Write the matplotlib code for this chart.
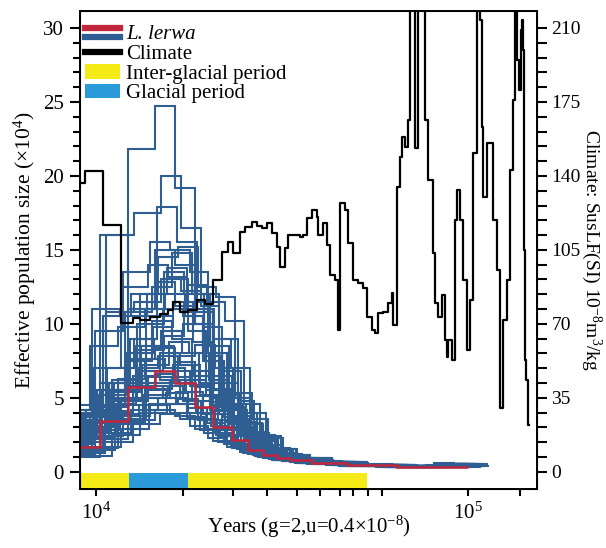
import numpy as np
import matplotlib.pyplot as plt
from matplotlib.legend_handler import HandlerBase
from matplotlib.lines import Line2D
from matplotlib.patches import Patch

plt.rcParams['font.family'] = ['Liberation Serif', 'DejaVu Serif']
plt.rcParams['mathtext.fontset'] = 'custom'
plt.rcParams['mathtext.rm'] = 'Liberation Serif'
plt.rcParams['mathtext.it'] = 'Liberation Serif:italic'

# PSMC time intervals (years) and main estimate (x10^4)
psmc_edges = [7500, 10250, 12190, 14400, 16300, 18460, 20600, 23200, 25600,
              28100, 30700, 33200, 38000, 47200, 64400, 87800, 100000]
lerwa_ne = [1.7, 3.45, 5.7, 6.8, 6.0, 4.4, 3.05, 2.15, 1.5, 1.15, 0.95,
            0.8, 0.62, 0.45, 0.33, 0.3]

# bootstrap replicates: time stretch factor and Ne per interval
boot_stretch = [1.0, 0.95, 1.03, 0.98, 1.06, 1.1, 0.9, 1.0, 1.0, 1.04, 0.97, 1.02,
                1.08, 0.93, 1.05, 0.96, 1.12, 1.0, 1.12, 0.88, 1.01, 0.97, 1.1, 0.92,
                1.02, 0.96, 1.07, 1.0, 0.94, 1.09, 1.14, 0.99, 1.05, 1.03, 1.11, 0.95,
                1.06, 1.13, 0.91, 1.0, 1.04, 0.98, 1.08, 0.94]
boot_ne = [
    [1.0, 2.2, 3.5, 4.2, 3.8, 2.9, 2.1, 1.6, 1.2, 0.95, 0.8, 0.68, 0.52, 0.38, 0.3, 0.32],
    [1.3, 2.8, 4.8, 5.5, 5.0, 3.7, 2.6, 1.9, 1.35, 1.05, 0.9, 0.75, 0.58, 0.4, 0.33, 0.4],
    [2.0, 4.0, 6.5, 8.0, 7.2, 5.2, 3.5, 2.5, 1.7, 1.25, 1.0, 0.82, 0.62, 0.45, 0.35, 0.45],
    [2.5, 4.5, 7.5, 10.2, 9.0, 6.5, 4.2, 2.9, 1.9, 1.35, 1.05, 0.85, 0.64, 0.46, 0.36, 0.5],
    [3.0, 5.0, 10.0, 13.5, 12.0, 8.0, 5.0, 3.2, 2.0, 1.4, 1.1, 0.88, 0.66, 0.47, 0.37, 0.5],
    [1.5, 3.2, 5.2, 6.2, 5.8, 4.5, 3.2, 2.2, 1.55, 1.15, 0.92, 0.78, 0.6, 0.42, 0.32, 0.38],
    [2.2, 3.8, 5.5, 7.0, 7.8, 6.0, 4.0, 2.6, 1.8, 1.3, 1.02, 0.82, 0.62, 0.44, 0.34, 0.42],
    [3.5, 6.0, 11.0, 15.0, 14.0, 10.0, 6.0, 3.5, 2.2, 1.5, 1.15, 0.9, 0.68, 0.48, 0.37, 0.52],
    [3.0, 5.5, 21.8, 24.7, 19.2, 11.0, 5.0, 3.0, 2.0, 1.4, 1.1, 0.88, 0.66, 0.47, 0.36, 0.5],
    [2.8, 16.0, 17.5, 20.0, 16.5, 12.0, 6.0, 3.3, 2.1, 1.45, 1.1, 0.88, 0.66, 0.47, 0.36, 0.5],
    [3.2, 9.5, 13.5, 15.5, 15.0, 13.5, 8.0, 4.5, 2.5, 1.6, 1.2, 0.92, 0.7, 0.5, 0.38, 0.55],
    [3.8, 10.5, 12.0, 14.5, 15.2, 12.5, 11.8, 5.0, 2.6, 1.6, 1.2, 0.9, 0.68, 0.48, 0.37, 0.52],
    [1.1, 2.5, 4.0, 4.6, 4.3, 3.3, 2.4, 1.75, 1.3, 1.0, 0.85, 0.72, 0.55, 0.4, 0.32, 0.35],
    [1.8, 3.0, 4.5, 5.0, 5.8, 4.8, 3.5, 2.4, 1.6, 1.2, 0.95, 0.78, 0.6, 0.43, 0.33, 0.42],
    [2.6, 4.8, 8.5, 11.0, 10.5, 7.5, 4.5, 3.0, 1.95, 1.38, 1.07, 0.86, 0.65, 0.46, 0.36, 0.48],
    [3.4, 7.0, 12.5, 14.0, 13.0, 9.5, 5.5, 3.4, 2.1, 1.45, 1.12, 0.88, 0.66, 0.47, 0.36, 0.5],
    [4.5, 6.0, 10.5, 11.5, 10.8, 9.0, 7.0, 4.0, 2.4, 1.55, 1.15, 0.9, 0.68, 0.48, 0.37, 0.55],
    [2.4, 16.0, 11.0, 12.8, 11.2, 10.0, 6.5, 3.6, 2.2, 1.5, 1.12, 0.88, 0.66, 0.47, 0.36, 0.5],
    [1.6, 3.6, 6.0, 7.2, 6.5, 5.0, 3.8, 2.7, 1.8, 1.3, 1.0, 0.8, 0.62, 0.44, 0.34, 0.4],
    [2.0, 4.2, 7.0, 9.0, 8.5, 6.8, 4.8, 3.1, 2.0, 1.4, 1.08, 0.86, 0.65, 0.46, 0.35, 0.46],
    [3.0, 5.5, 9.0, 17.9, 15.5, 11.0, 5.5, 3.3, 2.1, 1.45, 1.1, 0.88, 0.66, 0.47, 0.36, 0.5],
    [1.2, 2.4, 3.8, 4.5, 4.0, 3.1, 2.3, 1.7, 1.25, 0.98, 0.82, 0.7, 0.54, 0.39, 0.31, 0.34],
    [2.3, 3.5, 5.0, 6.0, 6.8, 5.5, 4.2, 3.2, 2.2, 1.5, 1.1, 0.86, 0.65, 0.46, 0.35, 0.45],
    [3.6, 4.2, 6.0, 8.5, 9.5, 8.0, 6.0, 3.9, 2.4, 1.6, 1.18, 0.9, 0.68, 0.48, 0.37, 0.6],
    [1.4, 2.6, 4.2, 5.0, 4.6, 3.5, 2.5, 1.8, 1.3, 1.0, 0.85, 0.72, 0.56, 0.4, 0.32, 0.36],
    [1.9, 3.3, 5.0, 5.8, 5.3, 4.0, 2.9, 2.0, 1.45, 1.1, 0.9, 0.76, 0.58, 0.42, 0.33, 0.4],
    [2.7, 3.9, 4.5, 5.3, 6.2, 5.1, 3.7, 2.6, 1.7, 1.25, 0.98, 0.8, 0.6, 0.43, 0.34, 0.42],
    [3.1, 4.4, 5.8, 6.6, 7.2, 5.8, 4.4, 3.0, 1.9, 1.35, 1.05, 0.84, 0.63, 0.45, 0.35, 0.46],
    [2.1, 3.7, 6.3, 7.6, 7.0, 5.4, 3.9, 2.8, 1.85, 1.3, 1.02, 0.82, 0.62, 0.44, 0.34, 0.44],
    [3.3, 4.9, 7.2, 8.8, 8.0, 6.2, 4.6, 3.3, 2.1, 1.45, 1.1, 0.87, 0.66, 0.47, 0.36, 0.5],
    [1.7, 2.9, 4.6, 5.4, 5.1, 4.1, 3.0, 2.1, 1.5, 1.12, 0.92, 0.77, 0.59, 0.42, 0.33, 0.38],
    [4.0, 5.2, 8.0, 9.8, 11.0, 8.8, 5.6, 3.7, 2.3, 1.55, 1.15, 0.9, 0.68, 0.48, 0.37, 0.55],
    [2.9, 4.6, 6.8, 9.5, 10.0, 7.8, 5.2, 3.4, 2.2, 1.5, 1.12, 0.88, 0.66, 0.47, 0.36, 0.5],
    [1.3, 2.0, 3.2, 3.9, 3.6, 2.8, 2.0, 1.55, 1.15, 0.92, 0.78, 0.66, 0.5, 0.37, 0.3, 0.33],
    [2.4, 3.4, 5.6, 6.4, 5.9, 4.7, 3.4, 2.35, 1.6, 1.2, 0.94, 0.78, 0.6, 0.43, 0.33, 0.41],
    [3.7, 11.0, 10.5, 12.0, 13.8, 10.8, 7.5, 4.2, 2.4, 1.55, 1.15, 0.9, 0.68, 0.48, 0.37, 0.55],
    [2.2, 6.0, 8.2, 9.2, 11.5, 9.8, 6.8, 4.0, 2.3, 1.5, 1.12, 0.88, 0.66, 0.47, 0.36, 0.5],
    [3.9, 4.8, 6.4, 7.8, 8.6, 7.0, 5.3, 3.6, 2.3, 1.55, 1.15, 0.9, 0.68, 0.48, 0.37, 0.56],
    [1.5, 3.0, 5.4, 6.8, 6.2, 4.9, 3.6, 2.5, 1.7, 1.25, 0.98, 0.8, 0.61, 0.44, 0.34, 0.4],
    [2.6, 4.1, 7.6, 8.4, 7.4, 5.7, 4.1, 2.9, 1.9, 1.35, 1.05, 0.85, 0.64, 0.46, 0.35, 0.46],
    [3.0, 10.8, 11.5, 13.0, 12.2, 11.2, 9.0, 4.8, 2.6, 1.6, 1.2, 0.9, 0.68, 0.48, 0.37, 0.55],
    [2.5, 5.5, 10.8, 12.5, 14.8, 12.0, 8.5, 4.4, 2.4, 1.55, 1.15, 0.9, 0.68, 0.48, 0.37, 0.52],
    [3.4, 6.2, 12.0, 13.2, 12.6, 11.5, 10.2, 4.6, 2.5, 1.6, 1.18, 0.9, 0.68, 0.48, 0.37, 0.55],
    [4.2, 8.5, 9.8, 11.0, 12.0, 10.5, 8.0, 4.3, 2.4, 1.55, 1.15, 0.9, 0.68, 0.48, 0.37, 0.55],
]

# climate record: age (ka) and SusLF (10^-8 m3/kg)
climate_ka = [8.5, 9.34, 10.44, 11.67, 12.57, 13.13, 13.97, 14.86, 15.61, 16.11, 16.82,
              17.67, 18.69, 19.63, 20.63, 21.82, 22.64, 23.35, 24.38, 25.15, 26.27, 27.09,
              27.95, 28.83, 29.73, 30.66, 31.23, 32.22, 32.82, 34.27, 35.35, 36.01, 36.92,
              38.07, 39.27, 39.52, 40.76, 41.78, 42.56, 43.9, 44.72, 45.28, 46.71, 47.58,
              49.08, 50.63, 52.22, 53.53, 55.21, 56.23, 57.29, 59.09, 60.95, 62.48, 62.87,
              64.44, 65.65, 66.47, 67.71, 68.98, 69.8, 72.04, 73.39, 76.63, 78.07, 80.52,
              81.53, 83.06, 85.15, 86.75, 87.82, 88.37, 90.57, 92.26, 93.42, 95.17, 96.96,
              99.38, 101.2, 103.1, 105.7, 107.7, 109.0, 109.7, 112.5, 116.7, 119.7, 121.9,
              124.2, 127.3, 129.7, 132.1, 133.8, 135.4, 137.1, 138.8, 139.7, 140.5, 141.4,
              142.3, 143.2, 145.0, 145.6]
climate_val = [136.7, 142.4, 116.8, 70.5, 72.8, 71.9, 73.3, 74.7, 76.6, 80.4, 75.7,
               76.6, 81.4, 79.5, 90.8, 104.1, 108.8, 103.6, 113.5, 115.9, 118.3, 116.4,
               115.4, 117.8, 113.0, 106.4, 97.0, 106.0, 112.1, 112.1, 111.2, 112.1, 120.1,
               123.9, 120.6, 112.1, 117.8, 107.4, 93.2, 90.8, 67.2, 127.2, 123.9, 108.3,
               90.8, 89.4, 87.0, 73.3, 67.2, 65.7, 75.2, 75.7, 79.9, 84.7, 69.5,
               134.8, 149.0, 158.5, 153.7, 166.5, 225, 153.3, 225, 166.5, 138.1, 103.6,
               79.9, 73.3, 83.7, 62.4, 54.4, 62.4, 53.0, 119.2, 133.4, 119.2, 90.8,
               57.7, 81.4, 150.9, 225, 213.8, 163.2, 130.1, 155.6, 119.2, 95.5, 30.0,
               71.9, 90.8, 142.8, 176.0, 225, 194.9, 180.7, 209.1, 213.8, 199.6, 105.0,
               53.0, 43.5, 22.2, 22.2]

# glacial / inter-glacial bands (years)
period_start = [8000, 12270, 17670]
period_end = [12270, 17670, 53500]
period_kind = ['inter', 'glacial', 'inter']

x_minor = [17100, 23400, 28800, 34700, 40000, 45300, 49000, 53800, 58700, 138000]

red = '#c0273d'
blue = '#2f5e93'
yellow = '#f4ea16'
glacial_blue = '#2a9bd8'


class TwoLines(HandlerBase):
    def create_artists(self, legend, orig_handle, xdescent, ydescent,
                       width, height, fontsize, trans):
        x = [-xdescent, width - xdescent]
        top = Line2D(x, [height * 0.8 - ydescent] * 2, color=red, lw=4.5, transform=trans)
        bot = Line2D(x, [height * 0.2 - ydescent] * 2, color=blue, lw=4.5, transform=trans)
        return [top, bot]


fig = plt.figure(figsize=(6.06, 5.48), dpi=100)
ax = fig.add_axes([0.132, 0.108, 0.754, 0.872])

edges = np.array(psmc_edges, dtype=float)
for s, ne in zip(boot_stretch, boot_ne):
    ax.stairs(ne, edges * s, baseline=None, color=blue, lw=1.5, zorder=2)
ax.stairs(lerwa_ne, edges, baseline=None, color=red, lw=1.8, zorder=3)

for a, b, k in zip(period_start, period_end, period_kind):
    c = yellow if k == 'inter' else glacial_blue
    ax.broken_barh([(a, b - a)], (-1.4, 1.33), facecolors=c, zorder=1)

ax.set_xscale('log')
ax.set_xlim(9060, 153000)
ax.set_ylim(-1.15, 31.15)
ax.set_xticks([1e4, 1e5])
ax.set_xticklabels(['$10^4$', '$10^5$'])
ax.set_xticks(x_minor, minor=True)
ax.set_xticklabels([], minor=True)
ax.set_yticks(range(0, 31, 5))
ax.set_yticks(range(0, 31, 1), minor=True)
ax.tick_params(axis='x', which='both', direction='out', length=5, width=1.5,
               labelsize=15, pad=5)
ax.tick_params(axis='y', which='major', direction='out', length=7.5, width=1.5,
               labelsize=15, pad=4)
ax.tick_params(axis='y', which='minor', direction='out', length=5, width=1.5)
for sp in ax.spines.values():
    sp.set_linewidth(1.4)
ax.set_xlabel('Years (g=2,u=0.4×10$^{-8}$)', fontsize=15, labelpad=-7)
ax.set_ylabel('Effective population size (×10$^4$)', fontsize=15.5, labelpad=4)

ax2 = ax.twinx()
ax2.plot(np.array(climate_ka) * 1000, climate_val, color='black', lw=1.6,
         drawstyle='steps-post', zorder=4)
ax2.set_ylim(-1.15 * 7, 31.15 * 7)
ax2.set_yticks(range(0, 211, 35))
ax2.set_yticks(range(0, 211, 7), minor=True)
ax2.tick_params(axis='y', which='both', direction='out', length=7.5, width=1.5,
                labelsize=14, pad=3)
ax2.set_ylabel('Climate: SusLF(SI) 10$^{-8}$m$^3$/kg', fontsize=14,
               rotation=270, labelpad=16)

handles = [Line2D([], []), Line2D([], [], color='black', lw=4.5),
           Patch(facecolor=yellow), Patch(facecolor=glacial_blue)]
labels = ['L. lerwa', 'Climate', 'Inter-glacial period', 'Glacial period']
leg = ax2.legend(handles, labels, loc='upper left', bbox_to_anchor=(-0.016, 0.997),
                 frameon=False, fontsize=15, handlelength=1.65, handleheight=0.7,
                 labelspacing=0.0, handletextpad=0.33, borderaxespad=0.2,
                 handler_map={handles[0]: TwoLines()})
leg.get_texts()[0].set_style('italic')

fig.savefig('out.png', dpi=100)
